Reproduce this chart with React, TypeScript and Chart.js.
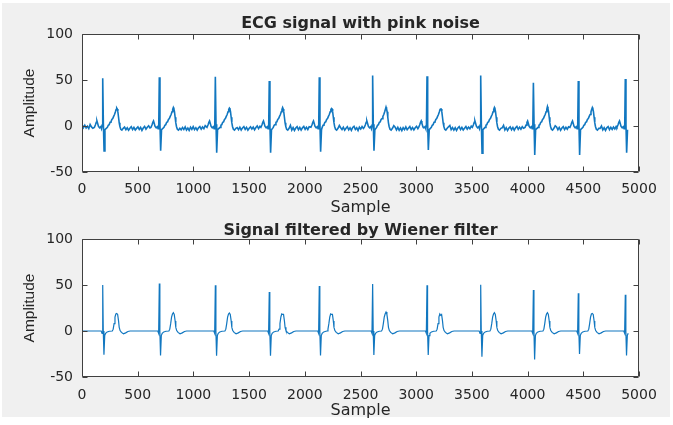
import { useEffect, useRef } from "react";
import { Chart, registerables } from "chart.js";

Chart.register(...registerables);

// ---- axes ----
const xTicks = [0, 500, 1000, 1500, 2000, 2500, 3000, 3500, 4000, 4500, 5000];
const yTicks = [-50, 0, 50, 100];
const topTitle = "ECG signal with pink noise";
const bottomTitle = "Signal filtered by Wiener filter";
const xLabel = "Sample";
const yLabel = "Amplitude";

// ---- beats ----
const rPeakSamples = [186, 694, 1197, 1681, 2130, 2609, 3097, 3579, 4052, 4455, 4877];
const tPeakOffsets = [126, 126, 126, 120, 110, 120, 123, 123, 126, 126, 126];

const noisyR = [52, 53, 53.5, 49, 53, 55, 54, 55, 47, 49, 51];
const noisyS = [-27, -27, -29, -29, -28, -27, -26, -29.5, -31.5, -31.5, -29];
const noisyT = [19.5, 20, 19.5, 20, 19, 20.5, 18.5, 20, 21, 20, 19.5];

const filteredR = [50, 51.5, 49.6, 42.4, 49, 51, 49.6, 50.3, 44.5, 41, 39.5];
const filteredS = [-25.7, -26.5, -27, -27, -26.5, -26, -26, -28, -31, -25, -26.5];
const filteredT = [19, 20, 19.5, 18, 18, 20.6, 17, 20, 20, 19, 19];

// beat shapes (offset in samples, amplitude); null = per-beat value
const noisyQrsOffsets = [-75, -66, -58, -52, -46, -38, -28, -18, -11, -5, 0, 6, 12, 20];
const noisyQrsShape = [-1.5, 1.0, 4.0, 5.5, 3.0, -0.5, -2.0, -0.8, -3.0, 1.0, null, 2, null, -4];
const noisyTOffsets = [-84, -76, -68, -60, -52, -44, -36, -28, -20, -12, -6, 0, 5, 10, 16, 22, 28, 36, 46, 58];
const noisyTShape = [-1.5, 0.8, 1.5, 4.0, 4.5, 7.0, 8.0, 10.5, 12.5, 15.5, 18.0, null, 18.5, 15.5, 9.5, 3.5, -0.5, -3.5, -4.5, -2.5];

const filteredQrsOffsets = [-50, -14, -6, 0, 5, 11, 18, 26, 40, 60];
const filteredQrsShape = [0, 0, -2.5, null, 0, null, -5, -2.5, -1, -0.3];
const filteredTOffsets = [-40, -32, -24, -16, -8, 0, 8, 16, 22, 30, 42, 60, 80, 100, 120];
const filteredTShape = [0, 2, 8, 15, 18.5, null, 18, 11, 4, 0.5, -1.5, -3, -2, -0.5, 0];

// pink-noise baseline of the upper signal, read in order between beats
const noisyBaseline = [
  1.5, -1.8, 0.9, -2.2, -0.3, -2.8, 1.6, -1.0, -2.5,
  -1.2, -4.0, -1.9, -4.6, -2.4, -0.8, -3.9, -1.5, -4.3, -2.6, -0.9, -3.7, -1.6, -4.8, -2.2, -0.5, -3.4, -1.3, 0.2, -2.1,
  -4.2, -1.6, -3.8, -0.9, -4.5, -2.3, -4.9, -1.4, -3.6, -0.7, -3.9, -1.8, -4.4, -2.0, -0.6, -3.5, -1.1, -2.9, 0.4, -1.7,
  -3.9, -1.3, -4.4, -2.1, -0.6, -3.7, -1.5, -4.6, -2.4, -0.8, -3.3, -1.2, -4.1, -1.7, 0.1, -2.8, -0.4, 0.8,
  -4.5, -1.7, -4.8, -2.2, -0.7, -4.0, -1.6, -4.4, -2.0, -0.5, -3.6, -1.4, -3.9, -0.9, 0.5, -1.9,
  -3.8, -1.4, -4.6, -2.5, -0.8, -4.2, -1.9, -4.7, -1.6, -0.4, -3.8, -2.0, -4.9, -1.3, -3.3, -0.6, -2.6, 0.3, -1.2,
  -4.3, -1.5, -4.7, -2.2, -5.1, -1.8, -3.9, -1.0, -4.1, -2.3, -0.6, -3.8, -1.6, -4.2, -1.9, -0.3, -2.9, -0.8, 0.6,
  -4.0, -1.7, -4.5, -1.9, -4.8, -2.1, -0.7, -3.9, -1.5, -4.3, -2.4, -0.6, -3.5, -1.2, -3.1, -0.2, -2.0, 0.7,
  -4.4, -1.8, -4.9, -2.3, -0.9, -4.1, -1.6, -4.6, -2.0, -0.5, -3.7, -1.3, -3.4, -0.8, -2.5, 0.2, -1.0,
  -4.1, -1.6, -4.7, -2.2, -0.7, -3.9, -1.4, -3.5, -0.9, -2.6, 0.1,
  -4.2, -1.9, -4.8, -2.0, -0.6, -4.0, -1.5, -3.8, -1.1, -3.2, -0.4, -2.3, 0.4,
  -2.0, -3.6, -1.1, -2.9, -0.5, -2.4, -3.8, -1.3, -0.2, -2.1,
];
const noiseStep = 12;
const noisyLastSample = 4905;
const filteredLastSample = 4903;

type Pt = { x: number; y: number };

function buildSeries(
  qrsOffsets: number[], qrsShape: (number | null)[],
  tOffsets: number[], tShape: (number | null)[],
  rVals: number[], sVals: number[], tVals: number[],
  last: number, baseline: number[] | null
): Pt[] {
  const pts: Pt[] = [];
  let k = 0;
  const rIdx = qrsShape.indexOf(null);
  const sIdx = qrsShape.lastIndexOf(null);
  const fillGap = (from: number, to: number) => {
    if (baseline) {
      for (let x = from; x < to; x += noiseStep) {
        if (k < baseline.length) pts.push({ x, y: baseline[k++] });
      }
    } else {
      pts.push({ x: from, y: 0 });
    }
  };
  fillGap(1, rPeakSamples[0] + qrsOffsets[0] - noiseStep / 2);
  rPeakSamples.forEach((r, i) => {
    qrsOffsets.forEach((o, j) => {
      const x = r + o;
      if (x > last) return;
      const y = j === rIdx ? rVals[i] : j === sIdx ? sVals[i] : (qrsShape[j] as number);
      pts.push({ x, y });
    });
    const tp = r + tPeakOffsets[i];
    tOffsets.forEach((o, j) => {
      const x = tp + o;
      if (x > last) return;
      const y = tShape[j] === null ? tVals[i] : (tShape[j] as number);
      pts.push({ x, y });
    });
    if (i < rPeakSamples.length - 1) {
      const from = tp + tOffsets[tOffsets.length - 1] + noiseStep;
      const to = rPeakSamples[i + 1] + qrsOffsets[0] - noiseStep / 2;
      fillGap(from, to);
    }
  });
  return pts;
}

const TEXT = "#262626";

const framePlugin = {
  id: "frame",
  beforeDraw(chart: any) {
    const { ctx, chartArea: a } = chart;
    ctx.save();
    ctx.fillStyle = "#ffffff";
    ctx.fillRect(a.left, a.top, a.right - a.left, a.bottom - a.top);
    ctx.restore();
  },
  afterDatasetsDraw(chart: any, _args: any, opts: any) {
    const { ctx, chartArea: a, scales } = chart;
    ctx.save();
    ctx.strokeStyle = "#404040";
    ctx.lineWidth = 1;
    const L = Math.round(a.left) + 0.5, R = Math.round(a.right) - 0.5;
    const T = Math.round(a.top) + 0.5, B = Math.round(a.bottom) - 0.5;
    ctx.beginPath();
    ctx.rect(L, T, R - L, B - T);
    const tl = 5;
    scales.x.ticks.forEach((t: any) => {
      const px = Math.round(scales.x.getPixelForValue(t.value)) + 0.5;
      ctx.moveTo(px, B); ctx.lineTo(px, B - tl);
      ctx.moveTo(px, T); ctx.lineTo(px, T + tl);
    });
    scales.y.ticks.forEach((t: any) => {
      const py = Math.round(scales.y.getPixelForValue(t.value)) + 0.5;
      ctx.moveTo(L, py); ctx.lineTo(L + tl, py);
      ctx.moveTo(R, py); ctx.lineTo(R - tl, py);
    });
    ctx.stroke();
    // title
    ctx.fillStyle = TEXT;
    ctx.font = "bold 16px 'DejaVu Sans'";
    ctx.textAlign = "center";
    ctx.textBaseline = "alphabetic";
    ctx.fillText(opts.title, (a.left + a.right) / 2, a.top - opts.titleGap);
    ctx.restore();
  },
};

function makeConfig(
  data: Pt[], width: number, title: string, titleGap: number,
  padTop: number, xAxisHeight: number, tickPad: number, xTitlePad: number
): any {
  return {
    type: "line",
    data: {
      datasets: [
        {
          data,
          borderColor: "#1177C0",
          borderWidth: width,
          pointRadius: 0,
          tension: 0,
          fill: false,
        },
      ],
    },
    options: {
      animation: false,
      responsive: false,
      maintainAspectRatio: false,
      layout: { padding: { left: 0, right: 34, top: padTop, bottom: 0 } },
      plugins: {
        legend: { display: false },
        tooltip: { enabled: false },
        title: { display: false },
        frame: { title, titleGap },
      },
      scales: {
        x: {
          type: "linear",
          min: 0,
          max: 5000,
          afterBuildTicks: (s: any) => { s.ticks = xTicks.map((v) => ({ value: v })); },
          afterFit: (s: any) => { s.height = xAxisHeight; },
          grid: { display: false, drawTicks: false },
          border: { display: false },
          ticks: {
            color: TEXT,
            font: { family: "'DejaVu Sans'", size: 14 },
            padding: tickPad,
            maxRotation: 0,
            autoSkip: false,
            callback: (v: any) => String(v),
          },
          title: {
            display: true,
            text: xLabel,
            color: TEXT,
            font: { family: "'DejaVu Sans'", size: 16 },
            padding: { top: 0, bottom: xTitlePad },
          },
        },
        y: {
          type: "linear",
          min: -50,
          max: 100,
          afterBuildTicks: (s: any) => { s.ticks = yTicks.map((v) => ({ value: v })); },
          afterFit: (s: any) => { s.width = 82; },
          grid: { display: false, drawTicks: false },
          border: { display: false },
          ticks: {
            color: TEXT,
            font: { family: "'DejaVu Sans'", size: 14 },
            padding: 9,
            callback: (v: any) => String(v),
          },
          title: {
            display: true,
            text: yLabel,
            color: TEXT,
            font: { family: "'Liberation Sans'", size: 15.5 },
            padding: { top: 20, bottom: 0 },
          },
        },
      },
    },
    plugins: [framePlugin],
  };
}

export default function App() {
  const topRef = useRef<HTMLCanvasElement>(null);
  const botRef = useRef<HTMLCanvasElement>(null);

  useEffect(() => {
    document.body.style.margin = "0";
    const noisy = buildSeries(
      noisyQrsOffsets, noisyQrsShape, noisyTOffsets, noisyTShape,
      noisyR, noisyS, noisyT, noisyLastSample, noisyBaseline
    );
    const filtered = buildSeries(
      filteredQrsOffsets, filteredQrsShape, filteredTOffsets, filteredTShape,
      filteredR, filteredS, filteredT, filteredLastSample, null
    );
    const c1 = new Chart(topRef.current as HTMLCanvasElement,
      makeConfig(noisy, 1.6, topTitle, 6, 34, 46, 8.6, 0.4));
    const c2 = new Chart(botRef.current as HTMLCanvasElement,
      makeConfig(filtered, 1.2, bottomTitle, 4, 27, 48, 10, 4.4));
    return () => { c1.destroy(); c2.destroy(); };
  }, []);

  return (
    <div style={{ position: "fixed", left: 0, top: 0, width: 673, height: 425, background: "#ffffff" }}>
      <div style={{ position: "absolute", left: 2, top: 3, width: 668, height: 414, background: "#f0f0f0" }} />
      <canvas ref={topRef} width={673} height={218} style={{ position: "absolute", left: 0, top: 0, width: 673, height: 218 }} />
      <canvas ref={botRef} width={673} height={213} style={{ position: "absolute", left: 0, top: 212, width: 673, height: 213 }} />
    </div>
  );
}
